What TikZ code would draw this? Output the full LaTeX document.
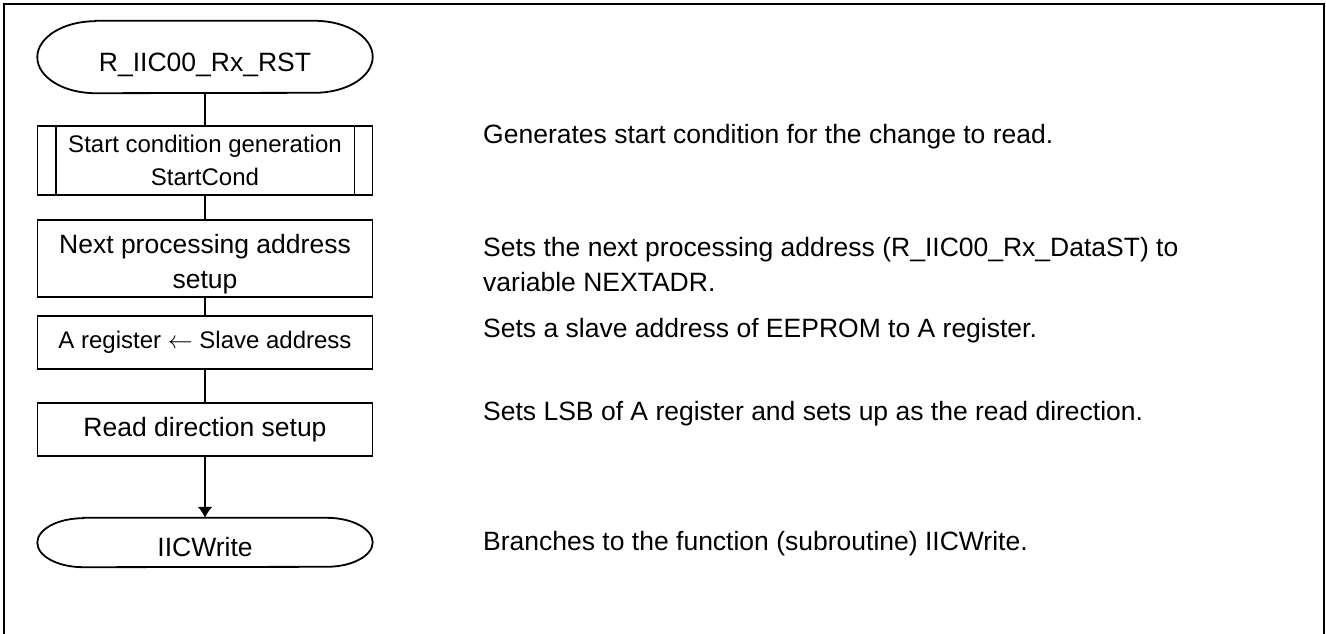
\documentclass[tikz,border=0pt]{standalone}
\usepackage{fontspec}
\setmainfont{Liberation Sans}
\usetikzlibrary{positioning,arrows.meta}

% outline of a terminal: straight top and bottom, half-ellipse ends
\newcommand{\termoutline}[3]{%
    \draw[line] ([xshift=#2]#1.north west) -- ([xshift=-#2]#1.north east)
        arc[start angle=90, end angle=-90, x radius=#2, y radius=#3]
        -- ([xshift=#2]#1.south west)
        arc[start angle=270, end angle=90, x radius=#2, y radius=#3] -- cycle;
}

\begin{document}
\begin{tikzpicture}[%
    x=1pt,
    y=-1pt,
    on grid,
    line/.style={line width=1.8pt},
    big/.style={font=\fontsize{26.5}{35}\selectfont},
    small/.style={font=\fontsize{24}{33}\selectfont},
    term/.style={%
        big,
        minimum width=335pt,
        inner sep=0pt,
        text height=28pt,
        text depth=0pt,
    },
    box/.style={%
        draw,
        line,
        minimum width=335pt,
        inner sep=0pt,
        align=center,
    },
    cmt/.style={%
        big,
        anchor=base west,
        align=left,
        inner sep=0pt,
    }
]
\useasboundingbox (0,0) rectangle (1326,634);
\draw[line width=2.6pt] (4,634) -- (4,4) -- (1324,4) -- (1324,634);

    % flow
    \node[term, minimum height=72pt] (start) at (205,57) {R\_IIC00\_Rx\_RST};
    \node[box, small, minimum height=69pt, below=103.5pt of start] (cond)
        {Start condition generation\\StartCond};
    \node[box, big, minimum height=77pt, text height=59pt, text depth=0pt,
        below=98pt of cond] (next) {Next processing address\\setup};
    \node[box, small, minimum height=53pt, below=84pt of next] (areg)
        {A register $\leftarrow$ Slave address};
    \node[box, big, minimum height=53pt, below=87pt of areg] (read)
        {Read direction setup};
    \node[term, minimum height=49pt, below=113pt of read] (end) {IICWrite};

    \termoutline{start}{58pt}{36pt}
    \termoutline{end}{46pt}{24.5pt}
    \draw[line] ([xshift=19pt]cond.north west) -- ([xshift=19pt]cond.south west);
    \draw[line] ([xshift=-19pt]cond.north east) -- ([xshift=-19pt]cond.south east);

    \draw[line] (start) -- (cond);
    \draw[line] (cond) -- (next);
    \draw[line] (next) -- (areg);
    \draw[line] (areg) -- (read);
    \draw[line, -{Latex[length=11pt,width=15pt]}] (read) -- (end);

    % comments
    \node[cmt] (c1) at (483,143) {Generates start condition for the change to read.};
    \node[cmt] (c2) at (483,291)
        {Sets the next processing address (R\_IIC00\_Rx\_DataST) to\\variable NEXTADR.};
    \node[cmt] (c3) at (483,337) {Sets a slave address of EEPROM to A register.};
    \node[cmt] (c4) at (483,420) {Sets LSB of A register and sets up as the read direction.};
    \node[cmt] (c5) at (483,550) {Branches to the function (subroutine) IICWrite.};
\end{tikzpicture}
\end{document}
